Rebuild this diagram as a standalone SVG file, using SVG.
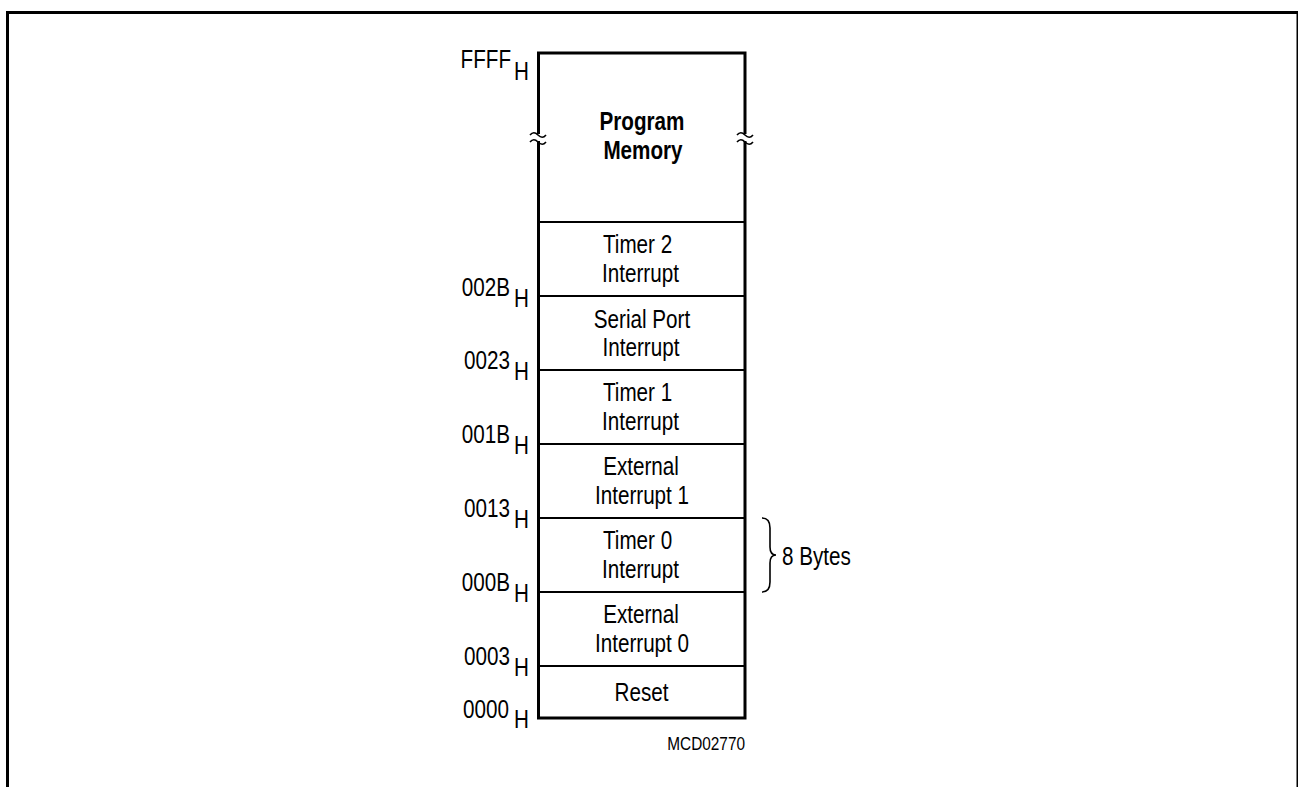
<svg xmlns="http://www.w3.org/2000/svg" width="1298" height="787" viewBox="0 0 1298 787">
<style>
text{font-family:"Liberation Sans",Arial,sans-serif;font-size:25.5px;fill:#000}
.c{text-anchor:middle}
.e{text-anchor:end}
.b{font-weight:bold}
.sm{font-size:19px}
.div{stroke:#000;stroke-width:2;fill:none}
.box{stroke:#000;stroke-width:3;fill:none}
.brk{stroke:#000;stroke-width:1.6;fill:none}
</style>
<rect width="1298" height="787" fill="#fff"/>
<path d="M7.5,787 V12.5 H1298 V787" fill="none" stroke="#000" stroke-width="3"/>

<g id="memory-map">
  <rect x="538.5" y="53" width="206.5" height="665" fill="#fff"/>
  <path class="box" d="M538.5,134 V53 H745 V134 M745,141 V718 H538.5 V141"/>
  <path class="brk" d="M530,135 c2.5,-3 5,-3 8,0 s5.5,3 8,0 M530,142 c2.5,-3 5,-3 8,0 s5.5,3 8,0"/>
  <path class="brk" d="M737,135 c2.5,-3 5,-3 8,0 s5.5,3 8,0 M737,142 c2.5,-3 5,-3 8,0 s5.5,3 8,0"/>
</g>

<g id="dividers">
  <line class="div" x1="538.5" y1="222" x2="745" y2="222"/>
  <line class="div" x1="538.5" y1="296" x2="745" y2="296"/>
  <line class="div" x1="538.5" y1="370" x2="745" y2="370"/>
  <line class="div" x1="538.5" y1="444" x2="745" y2="444"/>
  <line class="div" x1="538.5" y1="518" x2="745" y2="518"/>
  <line class="div" x1="538.5" y1="592" x2="745" y2="592"/>
  <line class="div" x1="538.5" y1="666" x2="745" y2="666"/>
</g>

<g id="program-memory">
  <text class="c b" transform="translate(642,130) scale(0.81,1)">Program</text>
  <text class="c b" transform="translate(643,159) scale(0.81,1)">Memory</text>
</g>
<g id="timer2">
  <text transform="translate(603,253) scale(0.81,1)">Timer 2</text>
  <text transform="translate(602,282) scale(0.81,1)">Interrupt</text>
</g>
<g id="serial">
  <text class="c" transform="translate(642,328) scale(0.81,1)">Serial Port</text>
  <text class="c" transform="translate(641,356) scale(0.81,1)">Interrupt</text>
</g>
<g id="timer1">
  <text transform="translate(603,401) scale(0.81,1)">Timer 1</text>
  <text transform="translate(602,430) scale(0.81,1)">Interrupt</text>
</g>
<g id="ext1">
  <text class="c" transform="translate(641,475) scale(0.81,1)">External</text>
  <text class="c" transform="translate(642,504) scale(0.81,1)">Interrupt 1</text>
</g>
<g id="timer0">
  <text transform="translate(603,549) scale(0.81,1)">Timer 0</text>
  <text transform="translate(602,578) scale(0.81,1)">Interrupt</text>
</g>
<g id="ext0">
  <text class="c" transform="translate(641,623) scale(0.81,1)">External</text>
  <text class="c" transform="translate(642,652) scale(0.81,1)">Interrupt 0</text>
</g>
<g id="reset">
  <text class="c" transform="translate(641.5,701) scale(0.81,1)">Reset</text>
</g>

<g id="addresses">
  <text class="e" transform="translate(511,68) scale(0.81,1)">FFFF</text>
  <text transform="translate(514,80) scale(0.81,1)">H</text>
  <text class="e" transform="translate(510,296) scale(0.81,1)">002B</text>
  <text transform="translate(514,307) scale(0.81,1)">H</text>
  <text class="e" transform="translate(510,369) scale(0.81,1)">0023</text>
  <text transform="translate(514,380) scale(0.81,1)">H</text>
  <text class="e" transform="translate(510,443) scale(0.81,1)">001B</text>
  <text transform="translate(514,454) scale(0.81,1)">H</text>
  <text class="e" transform="translate(510,517) scale(0.81,1)">0013</text>
  <text transform="translate(514,528) scale(0.81,1)">H</text>
  <text class="e" transform="translate(510,591) scale(0.81,1)">000B</text>
  <text transform="translate(514,602) scale(0.81,1)">H</text>
  <text class="e" transform="translate(510,665) scale(0.81,1)">0003</text>
  <text transform="translate(514,676) scale(0.81,1)">H</text>
  <text class="e" transform="translate(509,718) scale(0.81,1)">0000</text>
  <text transform="translate(514,728) scale(0.81,1)">H</text>
</g>

<g id="brace">
  <path class="brk" stroke-width="1.3" d="M762,518 Q770,518 770,528 V547 Q770,555 776,555 Q770,555 770,563 V582 Q770,592 762,592"/>
  <text transform="translate(782,565) scale(0.81,1)">8 Bytes</text>
</g>

<text class="e sm" transform="translate(745,750) scale(0.81,1)">MCD02770</text>
</svg>
